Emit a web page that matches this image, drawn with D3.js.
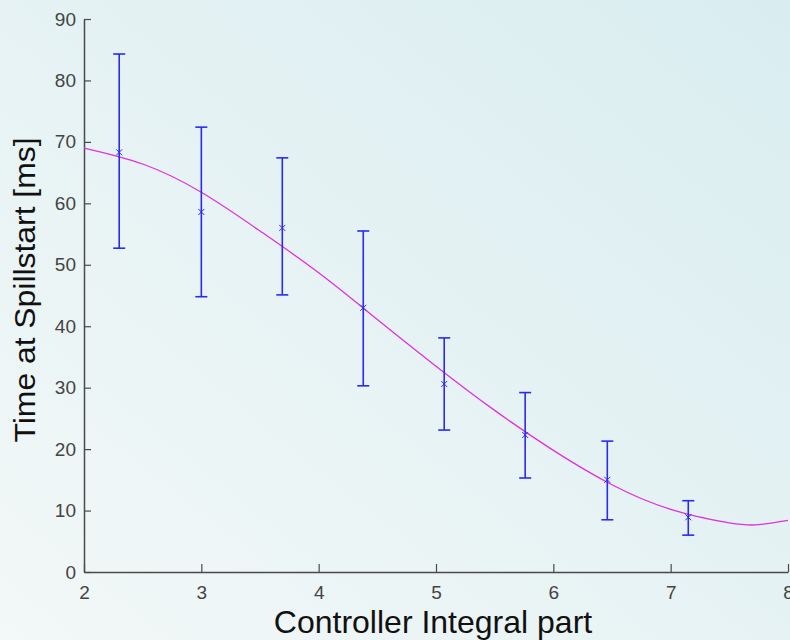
<!DOCTYPE html>
<html>
<head>
<meta charset="utf-8">
<script src="https://cdn.jsdelivr.net/npm/d3@7"></script>
<style>
  body { margin: 0; }
  svg { display: block; font-family: "Liberation Sans", Arial, sans-serif; }
</style>
</head>
<body>
<svg id="figure"></svg>
<script>
// measurements: controller integral part vs time at spillstart
const xValues = [2.3, 3.0, 3.69, 4.38, 5.07, 5.76, 6.46, 7.15];
const means   = [68.3, 58.6, 56.0, 43.0, 30.6, 22.3, 15.0, 8.9];
const upper   = [84.3, 72.4, 67.4, 55.5, 38.1, 29.2, 21.3, 11.6];
const lower   = [52.7, 44.8, 45.1, 30.3, 23.1, 15.3, 8.5, 6.0];

// fitted curve
const fitX = [2.0, 2.5, 3.0, 3.5, 4.0, 4.5, 5.0, 5.5, 6.0, 6.5, 7.0, 7.5, 7.75, 8.0];
const fitY = [69.0, 66.4, 61.8, 55.5, 48.7, 41.1, 33.5, 26.3, 19.8, 14.2, 10.2, 8.0, 7.7, 8.4];

const xTicks = [2, 3, 4, 5, 6, 7, 8];
const yTicks = [0, 10, 20, 30, 40, 50, 60, 70, 80, 90];

const W = 790, H = 640;
const margin = {top: 19, right: 2, bottom: 68, left: 84};

const svg = d3.select("#figure").attr("width", W).attr("height", H);

// background gradient
const grad = svg.append("defs").append("linearGradient")
    .attr("id", "bg")
    .attr("x1", "0%").attr("y1", "100%")
    .attr("x2", "100%").attr("y2", "0%");
grad.append("stop").attr("offset", "0%").attr("stop-color", "#f3f8f8");
grad.append("stop").attr("offset", "100%").attr("stop-color", "#d9edf0");
svg.append("rect").attr("width", W).attr("height", H).attr("fill", "url(#bg)");

const x = d3.scaleLinear().domain([2, 8]).range([margin.left, W - margin.right]);
const y = d3.scaleLinear().domain([0, 90]).range([H - margin.bottom, margin.top]);

const fmt = d3.format("d");

// axes, ticks pointing inward
const xAxis = svg.append("g")
    .attr("transform", "translate(0," + y(0) + ")")
    .call(d3.axisBottom(x).tickValues(xTicks).tickFormat(fmt)
        .tickSizeInner(-8).tickSizeOuter(0).tickPadding(10));
const yAxis = svg.append("g")
    .attr("transform", "translate(" + x(2) + ",0)")
    .call(d3.axisLeft(y).tickValues(yTicks).tickFormat(fmt)
        .tickSizeInner(-7).tickSizeOuter(0).tickPadding(8));

[xAxis, yAxis].forEach(function (g) {
    g.select(".domain").attr("stroke", "#4a4a4a").attr("stroke-width", 1.5);
    g.selectAll(".tick line").attr("stroke", "#4a4a4a").attr("stroke-width", 1.2);
    g.selectAll(".tick text").attr("fill", "#444").attr("font-size", 19);
});
xAxis.selectAll(".tick text").attr("dy", "0.9em");

// fitted curve
const fit = fitX.map((v, i) => [v, fitY[i]]);
svg.append("path")
    .datum(fit)
    .attr("fill", "none")
    .attr("stroke", "#e030e0")
    .attr("stroke-width", 1.3)
    .attr("d", d3.line().x(d => x(d[0])).y(d => y(d[1])).curve(d3.curveNatural));

// error bars
const data = xValues.map((v, i) => ({x: v, m: means[i], hi: upper[i], lo: lower[i]}));
const bars = svg.append("g").attr("stroke", "#2a2af5").attr("stroke-width", 1.6).attr("fill", "none");
const capW = 6;
bars.selectAll("g").data(data).join("g").each(function (d) {
    const g = d3.select(this);
    const cx = x(d.x);
    g.append("line").attr("x1", cx).attr("x2", cx).attr("y1", y(d.hi)).attr("y2", y(d.lo));
    g.append("line").attr("x1", cx - capW).attr("x2", cx + capW).attr("y1", y(d.hi)).attr("y2", y(d.hi));
    g.append("line").attr("x1", cx - capW).attr("x2", cx + capW).attr("y1", y(d.lo)).attr("y2", y(d.lo));
    // x marker
    const cy = y(d.m), s = 3;
    g.append("path")
        .attr("stroke-width", 1)
        .attr("d", `M${cx - s},${cy - s}L${cx + s},${cy + s}M${cx - s},${cy + s}L${cx + s},${cy - s}`);
});

// axis labels
svg.append("text")
    .attr("x", 433).attr("y", 633)
    .attr("text-anchor", "middle")
    .attr("font-size", 32)
    .attr("fill", "#111")
    .text("Controller Integral part");

svg.append("text")
    .attr("transform", "translate(35,290) rotate(-90)")
    .attr("text-anchor", "middle")
    .attr("font-size", 29)
    .attr("textLength", 305)
    .attr("lengthAdjust", "spacingAndGlyphs")
    .attr("fill", "#111")
    .text("Time at Spillstart [ms]");
</script>
</body>
</html>
